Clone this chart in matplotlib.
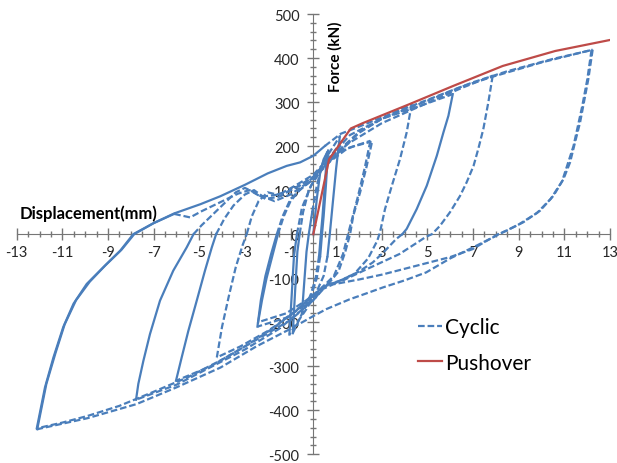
import matplotlib.pyplot as plt
from matplotlib.lines import Line2D
from matplotlib.ticker import MultipleLocator

plt.rcParams['font.family'] = ['Lato', 'DejaVu Sans']
plt.rcParams['axes.unicode_minus'] = False

# pushover curve (mm, kN)
push_x = [0.0, 0.69, 1.64, 2.16, 4.2, 6.1, 8.3, 10.6, 13.0]
push_y = [0, 170, 240, 252, 295, 336, 382, 416, 441]

# cyclic test, one list per branch of the loading path (mm)
cyc_x = [
    # +-0.6 mm, two cycles
    [0.0, 0.15, 0.3, 0.45, 0.6],
    [0.6, 0.5, 0.4, 0.33, 0.25],
    [0.25, 0.1, -0.1, -0.3, -0.5],
    [-0.5, -0.4, -0.3, -0.2, -0.05],
    [-0.05, 0.15, 0.4, 0.65],
    [0.65, 0.55, 0.45, 0.38, 0.3],
    [0.3, 0.15, -0.1, -0.4, -0.9],
    [-0.9, -0.8, -0.7, -0.6],
    [-0.6, -0.45, -0.2, 0.2, 0.7, 1.16],
    # +-1 mm
    [1.16, 1.0, 0.85, 0.72, 0.62],
    [0.62, 0.45, 0.15, -0.3, -0.7, -1.05],
    [-1.05, -0.95, -0.85, -0.72],
    [-0.72, -0.5, -0.1, 0.4, 1.0, 1.8, 2.54],
    # +-2.5 mm, two cycles
    [2.56, 2.34, 2.05, 1.75, 1.61, 1.4, 1.1, 0.7, 0.3, -0.3, -1.2, -2.42],
    [-2.42, -2.25, -2.05, -1.8, -1.55],
    [-1.55, -1.3, -1.0, -0.6, 0.0, 0.6, 1.5, 2.5],
    [2.5, 2.25, 1.95, 1.7, 1.52, 1.3, 0.9, 0.4, -0.2, -1.2, -2.45],
    [-2.45, -2.3, -2.1, -1.85, -1.6],
    [-1.6, -1.35, -1.0, -0.5, 0.0, 1.0, 2.0, 3.0, 4.31],
    # +-4.3 mm
    [4.31, 4.09, 3.8, 3.44, 3.14, 2.92, 2.8, 2.4, 1.8, 1.0, 0.4, 0.0, -1.0, -2.0, -3.2, -4.23],
    [-4.23, -4.0, -3.7, -3.4, -3.1, -2.92],
    [-2.92, -2.7, -2.4, -2.0, -1.6, -1.2, -0.6, 0.0, 1.0, 2.0, 3.0, 4.5, 6.11],
    # +-6 mm
    [6.11, 5.92, 5.7, 5.41, 4.97, 4.53, 4.09, 3.9],
    [3.9, 3.63, 3.1, 2.61, 2.0, 1.2, 0.6, 0.1, -0.8, -1.8, -3.0, -4.5, -6.02],
    [-6.02, -5.77, -5.48, -5.11, -4.75, -4.45, -4.26],
    [-4.26, -3.9, -3.5, -3.0, -2.6, -2.2, -1.7, -1.0, -0.3, 0.5, 1.5, 3.0, 5.0, 6.5, 7.86],
    # +-7.8 mm
    [7.86, 7.67, 7.45, 7.23, 7.02, 6.72, 6.43, 5.99, 5.55, 5.2, 4.94, 3.78, 2.32, 1.3, 0.6,
     0.0, -1.5, -3.0, -4.5, -6.0, -7.77],
    [-7.77, -7.67, -7.45, -7.16, -6.72, -6.14, -5.55, -5.25],
    [-5.25, -4.9, -4.4, -3.9, -3.4, -3.0, -2.6, -2.1, -1.5, -0.8, 0.0, 1.0, 1.6, 3.0, 5.0,
     6.5, 7.82, 10.0, 12.24],
    # +-12 mm, two cycles
    [12.24, 12.05, 11.83, 11.69, 11.47, 11.25, 10.96, 10.52, 9.93, 9.2, 8.47, 8.1, 7.5, 6.98,
     6.0, 4.5, 3.0, 2.0, 0.87, 0.4, 0.0, -1.0, -2.5, -4.0, -5.5, -7.0, -8.5, -9.9, -11.0, -12.12],
    [-12.12, -11.76, -11.39, -10.96, -10.51, -9.93, -9.2, -8.47, -7.89, -7.0, -6.1, -4.95,
     -4.08, -3.0, -2.0, -1.17, -0.58, 0.0, 0.5],
    [0.5, 1.2, 1.8, 3.0, 5.0, 7.0, 8.5, 10.5, 12.19],
    [12.19, 12.0, 11.78, 11.4, 10.9, 10.4, 9.8, 9.0, 8.3, 8.0, 7.0, 6.0, 4.94, 4.0, 3.05, 2.3,
     1.59, 0.58, 0.0, -1.0, -2.5, -4.07, -6.0, -7.75, -9.9, -12.1],
    [-12.1, -11.7, -11.3, -10.9, -10.4, -9.8, -9.1, -8.4, -7.85, -7.0, -6.1],
    [-6.1, -5.4, -4.9, -4.1, -3.3, -2.8, -2.3, -1.5, -0.8, 0.0, 0.8, 1.3],
]
# force (kN)
cyc_y = [
    [0, 80, 140, 170, 185],
    [185, 110, 40, 0, -50],
    [-50, -100, -135, -160, -180],
    [-180, -110, -40, 0, 50],
    [50, 110, 160, 190],
    [190, 110, 40, 0, -50],
    [-50, -100, -140, -170, -225],
    [-225, -130, -40, 0],
    [0, 50, 100, 140, 185, 222],
    [222, 150, 70, 0, -50],
    [-50, -95, -130, -170, -200, -228],
    [-228, -140, -50, 0],
    [0, 60, 110, 150, 185, 200, 210],
    [207, 155, 95, 42, 0, -40, -85, -110, -125, -150, -180, -200],
    [-200, -150, -100, -50, 0],
    [0, 40, 75, 100, 125, 160, 195, 212],
    [212, 150, 85, 35, 0, -45, -95, -120, -155, -190, -210],
    [-210, -150, -95, -45, 0],
    [0, 40, 80, 105, 125, 180, 230, 262, 296],
    [296, 231, 171, 110, 57, 4, -15, -55, -90, -110, -120, -140, -185, -220, -255, -280],
    [-280, -210, -140, -75, -25, 0],
    [0, 40, 75, 95, 90, 95, 110, 130, 185, 232, 262, 288, 318],
    [318, 269, 231, 178, 110, 57, 12, 0],
    [0, -11, -40, -64, -85, -105, -115, -135, -175, -215, -255, -300, -333],
    [-333, -280, -220, -151, -83, -30, 0],
    [0, 35, 65, 90, 100, 85, 75, 90, 115, 155, 205, 252, 298, 332, 360],
    [360, 300, 239, 194, 155, 118, 87, 50, 19, 0, -6, -45, -80, -105, -115,
     -150, -215, -262, -302, -342, -376],
    [-376, -340, -288, -227, -151, -83, -30, 0],
    [0, 20, 45, 70, 95, 105, 95, 80, 85, 105, 130, 190, 225, 262, 303,
     335, 357, 390, 419],
    [419, 352, 292, 254, 209, 163, 125, 87, 53, 27, 8, 0, -18, -34,
     -52, -72, -92, -103, -114, -125, -150, -195, -240, -285, -325, -358, -390, -413, -428, -441],
    [-441, -348, -280, -211, -158, -113, -75, -38, 0, 25, 47, 68,
     86, 112, 138, 155, 163, 178, 200],
    [200, 228, 240, 265, 305, 345, 370, 398, 418],
    [418, 350, 290, 200, 120, 80, 48, 22, 4, -4, -30, -55, -87, -105, -121, -135,
     -148, -170, -186, -215, -255, -303, -348, -386, -418, -443],
    [-443, -340, -270, -205, -150, -108, -70, -35, 0, 25, 46],
    [46, 38, 52, 72, 92, 100, 85, 90, 110, 135, 180, 215],
]
# branches recorded with many points in the source, so they look solid there
solid = {0, 1, 3, 5, 7, 9, 11, 14, 17, 22, 24, 27, 30, 33}

BLUE = '#4A7EBB'
RED = '#BE4B48'
GREY = '#767676'

fig = plt.figure(figsize=(6.17, 4.64), dpi=100)
ax = fig.add_axes([16.7 / 617, 1 - 455.3 / 464, (610 - 16.7) / 617, (455.3 - 15) / 464])

for i, (x, y) in enumerate(zip(cyc_x, cyc_y)):
    ls = '-' if i in solid else (0, (3, 1.3))
    ax.plot(x, y, color=BLUE, lw=1.6, ls=ls)
ax.plot(push_x, push_y, color=RED, lw=1.6, zorder=5)

ax.set_xlim(-13, 13)
ax.set_ylim(-500, 500)
ax.spines['top'].set_visible(False)
ax.spines['right'].set_visible(False)
ax.spines['left'].set_position(('data', 0))
ax.spines['bottom'].set_position(('data', 0))
for s in ['left', 'bottom']:
    ax.spines[s].set_color(GREY)
    ax.spines[s].set_zorder(0)

ax.set_xticks(range(-13, 14, 2))
ax.xaxis.set_minor_locator(MultipleLocator(0.5))
ax.yaxis.set_major_locator(MultipleLocator(100))
ax.yaxis.set_minor_locator(MultipleLocator(20))
ax.tick_params(which='major', direction='inout', length=8, width=1, color=GREY,
               labelsize=10.5, labelcolor='#262626')
ax.tick_params(which='minor', direction='inout', length=5, width=1, color=GREY)
ax.tick_params(axis='x', pad=4)
ax.tick_params(axis='y', pad=6)

fig.text(20 / 617, 1 - 214 / 464, 'Displacement(mm)', fontsize=12, fontweight='bold',
         ha='left', va='center')
fig.text(335 / 617, 1 - 57 / 464, 'Force (kN)', fontsize=11, fontweight='bold',
         rotation=90, ha='center', va='center')

handles = [Line2D([], [], color=BLUE, lw=1.6, ls=(0, (3, 1.3))),
           Line2D([], [], color=RED, lw=1.6)]
fig.legend(handles, ['Cyclic', 'Pushover'], loc='upper left',
           bbox_to_anchor=(418 / 617, 1 - 318 / 464), frameon=False, fontsize=15,
           handlelength=1.15, handletextpad=0.15, labelspacing=0.75,
           borderpad=0, borderaxespad=0)

fig.savefig('out.png', dpi=100)
